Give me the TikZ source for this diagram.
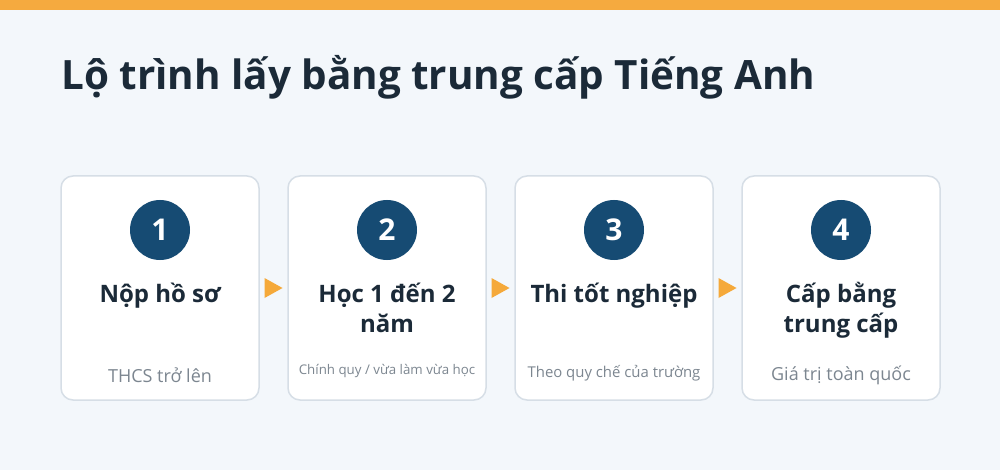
\documentclass[tikz,border=0pt]{standalone}
\usepackage{fontspec}
\usetikzlibrary{calc}
\setmainfont{Open Sans}
\definecolor{bg}{HTML}{F3F7FB}
\definecolor{topbar}{HTML}{F5AA3F}
\definecolor{titlec}{HTML}{1B2A38}
\definecolor{cardborder}{HTML}{D6DEE6}
\definecolor{circ}{HTML}{164B73}
\definecolor{subc}{HTML}{7C8690}
\definecolor{arrowc}{HTML}{F5A93A}
\begin{document}
\begin{tikzpicture}[x=1pt,y=-1pt,
  card/.style={draw=cardborder,line width=1.5pt,fill=white,rounded corners=12pt,minimum width=198pt,minimum height=224pt,inner sep=0pt},
  numc/.style={circle,fill=circ,minimum size=60pt,inner sep=0pt,text=white,font=\bfseries\fontsize{30}{32}\selectfont},
  steptitle/.style={align=center,text=titlec,font=\bfseries\fontsize{24}{30}\selectfont,anchor=north},
  stepsub/.style={text=subc,font=\fontsize{18}{20}\selectfont},
  tri/.style={fill=arrowc,draw=none}
]
\useasboundingbox (0,0) rectangle (1000,470);
\fill[bg] (0,0) rectangle (1000,470);
\fill[topbar] (0,0) rectangle (1000,10);
\node[anchor=base west,inner sep=0pt,text=titlec,font=\bfseries\fontsize{40.4}{42}\selectfont] (title) at (61,90) {Lộ trình lấy bằng trung cấp Tiếng Anh};
% cards
\foreach \i/\x in {1/160,2/387,3/614,4/841}{
  \node[card] (card\i) at (\x,288) {};
  \node[numc] (num\i) at (\x,230) {\i};
}
\node[steptitle] (t1) at (160,279) {Nộp hồ sơ};
\node[steptitle] (t2) at (387,279) {Học 1 đến 2\\năm};
\node[steptitle] (t3) at (614,279) {Thi tốt nghiệp};
\node[steptitle] (t4) at (841,279) {Cấp bằng\\trung cấp};
\node[stepsub] (s1) at (160,375) {THCS trở lên};
\node[stepsub,font=\fontsize{13.3}{15}\selectfont] (s2) at (387,371) {Chính quy / vừa làm vừa học};
\node[stepsub,font=\fontsize{14.9}{16}\selectfont] (s3) at (614,373) {Theo quy chế của trường};
\node[stepsub] (s4) at (841,375) {Giá trị toàn quốc};
% arrows
\foreach \a/\b in {1/2,2/3,3/4}{
  \coordinate (m\a) at ($(card\a.east)!0.5!(card\b.west)$);
  \fill[tri] ($(m\a)+(-9,-10)$) -- ($(m\a)+(9,0)$) -- ($(m\a)+(-9,10)$) -- cycle;
}
\end{tikzpicture}
\end{document}
